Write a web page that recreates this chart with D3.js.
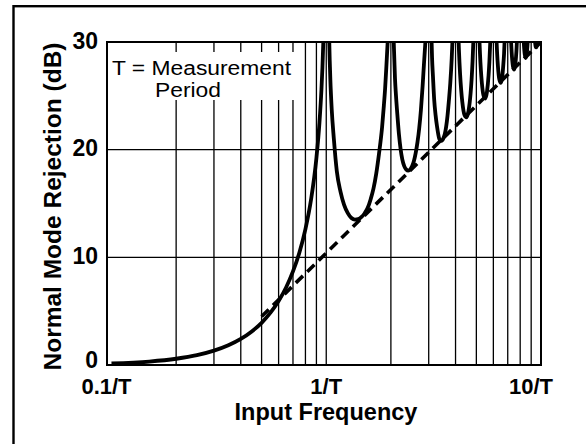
<!DOCTYPE html>
<html><head><meta charset="utf-8">
<script src="https://cdn.jsdelivr.net/npm/d3@7"></script>
<style>body{margin:0;background:#fff;} svg{display:block;}</style>
</head><body><svg id="c" width="586" height="444"></svg>
<script>
// ---- data ----
const xTickValues = [0.1, 1, 10];
const xTickLabels = ["0.1/T", "1/T", "10/T"];
const yTickValues = [0, 10, 20, 30];
const gridFreqs = [0.2,0.3,0.4,0.5,0.6,0.7,0.8,0.9,1,2,3,4,5,6,7,8,9];
const gridDb = [10, 20];

const lobe0 = [[0.1,0.14],[0.15,0.32],[0.2,0.58],[0.25,0.91],[0.3,1.33],[0.35,1.83],[0.4,2.42],[0.45,3.12],[0.5,3.92],[0.55,4.86],[0.6,5.94],[0.65,7.20],[0.7,8.69],[0.75,10.45],[0.8,12.62],[0.85,15.39],[0.9,19.23],[0.93,22.54],[0.95,25.61],[0.96,27.63],[0.969,30]];
const lobe1 = [[1.033,30],[1.038,28.3],[1.045,26.5],[1.06,23.8],[1.085,21.0],[1.12,18.0],[1.165,16.1],[1.21,14.9],[1.26,14.1],[1.31,13.65],[1.36,13.5],[1.41,13.55],[1.46,13.75],[1.51,14.1],[1.56,14.6],[1.61,15.4],[1.66,16.4],[1.71,17.8],[1.76,19.6],[1.82,22.1],[1.855,24.1],[1.88,25.7],[1.905,27.7],[1.932,30]];
const lobe2 = [[2.062,30],[2.075,28.4],[2.09,26.6],[2.11,25.15],[2.14,23.45],[2.18,21.45],[2.22,20.05],[2.26,19.1],[2.31,18.45],[2.36,18.15],[2.41,18.05],[2.46,18.15],[2.51,18.45],[2.56,18.95],[2.61,19.7],[2.66,20.7],[2.71,22.0],[2.76,23.7],[2.81,25.9],[2.85,27.9],[2.895,30]];
const lobe3 = [[3.095,30],[3.11,28.5],[3.14,26.8],[3.18,24.7],[3.23,23.2],[3.28,22.15],[3.36,21.0],[3.41,20.82],[3.46,20.85],[3.51,21.05],[3.57,21.5],[3.67,23.15],[3.72,24.43],[3.78,26.15],[3.84,28.5],[3.868,30]];
const lobe4 = [[4.1347,30],[4.15,29.16],[4.2,27.02],[4.25,25.52],[4.3,24.45],[4.4,23.25],[4.5,23.01],[4.6,23.63],[4.7,25.23],[4.75,26.49],[4.8,28.18],[4.8403,30]];
const lobe5 = [[5.1717,30],[5.2,28.88],[5.25,27.36],[5.3,26.27],[5.4,25.03],[5.5,24.75],[5.6,25.34],[5.7,26.90],[5.75,28.15],[5.8043,30]];
const lobe6 = [[6.2117,30],[6.25,28.87],[6.3,27.77],[6.4,26.50],[6.5,26.20],[6.6,26.77],[6.7,28.31],[6.73,28.92],[6.7653,30]];
const lobe7 = [[7.2562,30],[7.3,29.05],[7.35,28.27],[7.4,27.76],[7.5,27.44],[7.6,28.00],[7.65,28.62],[7.7,29.51],[7.7214,30]];
const lobe8 = [[8.309,30],[8.35,29.38],[8.4,28.86],[8.5,28.53],[8.6,29.07],[8.65,29.69],[8.6698,30]];
const lobe9 = [[9.3825,30],[9.4,29.84],[9.45,29.56],[9.5,29.50],[9.55,29.65],[9.5979,30]];
const lobes = [lobe0,lobe1,lobe2,lobe3,lobe4,lobe5,lobe6,lobe7,lobe8,lobe9];
const asymptote = [[0.5,4.5],[10,30]];
const yTitle = "Normal Mode Rejection (dB)";
const xTitle = "Input Frequency";
const noteLines = ["T = Measurement", "Period"];

// ---- drawing ----
const svg = d3.select("#c");
const L = 107, R = 541, T = 42, B = 365;
const x = d3.scaleLog().domain([0.0953, 10]).range([L, R]);
const y = d3.scaleLinear().domain([0, 30]).range([B, T]);
const font = "'Liberation Sans', Arial, Helvetica, sans-serif";

svg.append("rect").attr("width",586).attr("height",444).attr("fill","#fff");
// outer frame (extends past the window)
svg.append("rect").attr("x",13.5).attr("y",6.2).attr("width",600).attr("height",460)
  .attr("fill","none").attr("stroke","#000").attr("stroke-width",2.4);

svg.append("clipPath").attr("id","plot").append("rect")
  .attr("x",L).attr("y",T).attr("width",R-L).attr("height",B-T);

const g = svg.append("g");
g.selectAll("line.vg").data(gridFreqs).join("line").attr("class","vg")
  .attr("x1",d=>x(d)).attr("x2",d=>x(d)).attr("y1",T).attr("y2",B)
  .attr("stroke","#000").attr("stroke-width",1.3);
g.selectAll("line.hg").data(gridDb).join("line").attr("class","hg")
  .attr("x1",L).attr("x2",R).attr("y1",d=>y(d)).attr("y2",d=>y(d))
  .attr("stroke","#000").attr("stroke-width",1.3);

// note box
g.append("rect").attr("x",L+1).attr("y",52).attr("width",189).attr("height",48).attr("fill","#fff");
const noteG = g.append("g").attr("transform","translate(112,0) scale(1.17,1)");
noteG.append("text").attr("x",0).attr("y",75.5).attr("font-family",font).attr("font-size",19.5)
  .attr("fill","#000").text(noteLines[0]);
noteG.append("text").attr("x",(155-112)/1.17).attr("y",97.5).attr("font-family",font).attr("font-size",19.5)
  .attr("fill","#000").text(noteLines[1]);

const line = d3.line().x(d=>x(d[0])).y(d=>y(d[1])).curve(d3.curveMonotoneX);
const cg = svg.append("g").attr("clip-path","url(#plot)");
cg.append("path").attr("d", line(asymptote)).attr("fill","none").attr("stroke","#000")
  .attr("stroke-width",3.6).attr("stroke-dasharray","10,6");
cg.selectAll("path.lobe").data(lobes).join("path").attr("class","lobe")
  .attr("d", line).attr("fill","none").attr("stroke","#000").attr("stroke-width",3.8)
  .attr("stroke-linejoin","round");

// plot frame
svg.append("rect").attr("x",L).attr("y",T).attr("width",R-L).attr("height",B-T)
  .attr("fill","none").attr("stroke","#000").attr("stroke-width",2);

// y tick labels
svg.selectAll("text.yt").data(yTickValues).join("text").attr("class","yt")
  .attr("x",98).attr("y",d=>y(d)+(d===0?2.5:6.5)).attr("text-anchor","end")
  .attr("font-family",font).attr("font-weight","bold").attr("font-size",23).text(d=>d);
// x tick labels
const xOff = [-5, 0, -10];
svg.selectAll("text.xt").data(xTickValues).join("text").attr("class","xt")
  .attr("x",(d,i)=>x(d)+xOff[i]).attr("y",393.5).attr("text-anchor","middle")
  .attr("font-family",font).attr("font-weight","bold").attr("font-size",22)
  .text((d,i)=>xTickLabels[i]);

svg.append("text").attr("x",326).attr("y",420).attr("text-anchor","middle")
  .attr("font-family",font).attr("font-weight","bold").attr("font-size",23.5).text(xTitle);
svg.append("text").attr("transform","translate(61,206.5) rotate(-90)").attr("text-anchor","middle")
  .attr("font-family",font).attr("font-weight","bold").attr("font-size",24.5).text(yTitle);
</script></body></html>
